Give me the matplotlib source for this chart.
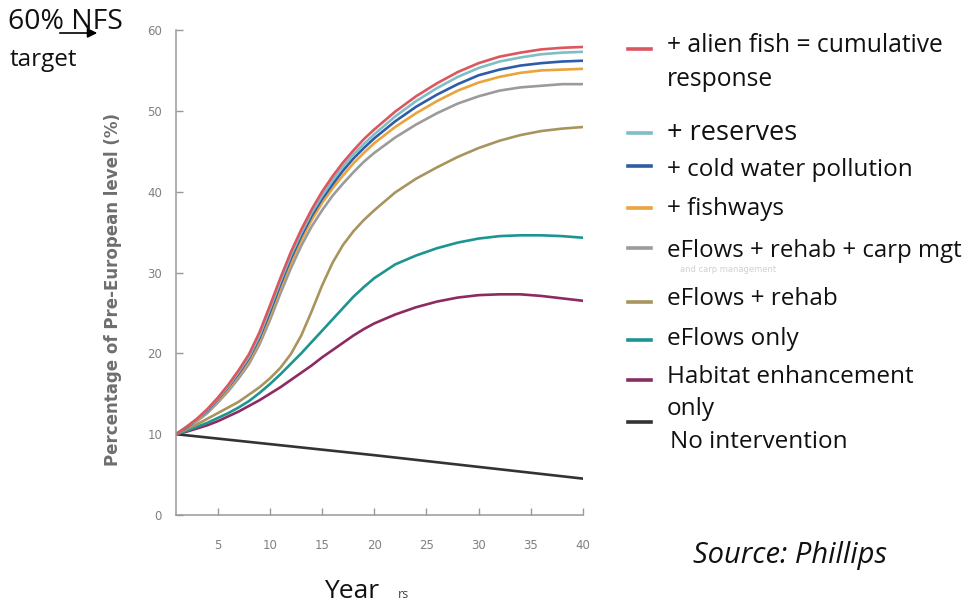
import matplotlib
matplotlib.use('Agg')
import matplotlib.pyplot as plt

years = [1, 2, 3, 4, 5, 6, 7, 8, 9, 10, 11, 12, 13, 14, 15, 16, 17, 18, 19, 20,
         22, 24, 26, 28, 30, 32, 34, 36, 38, 40]

alien_fish = [10, 10.9, 11.9, 13.1, 14.5, 16.1, 17.9, 19.9, 22.6, 25.9, 29.3, 32.5, 35.3, 37.8, 40.0,
              41.9, 43.6, 45.1, 46.5, 47.7, 49.9, 51.8, 53.4, 54.8, 55.9, 56.7, 57.2, 57.6, 57.8, 57.9]
reserves = [10, 10.9, 11.8, 13.0, 14.4, 15.9, 17.7, 19.6, 22.2, 25.5, 28.9, 32.1, 34.9, 37.4, 39.5,
            41.4, 43.1, 44.6, 45.9, 47.1, 49.3, 51.2, 52.8, 54.2, 55.3, 56.1, 56.6, 57.0, 57.2, 57.3]
cold_water = [10, 10.8, 11.8, 12.9, 14.3, 15.8, 17.5, 19.4, 21.9, 25.1, 28.5, 31.7, 34.5, 37.0, 39.1,
              40.9, 42.6, 44.1, 45.4, 46.6, 48.7, 50.5, 52.0, 53.3, 54.4, 55.1, 55.6, 55.9, 56.1, 56.2]
fishways = [10, 10.8, 11.7, 12.8, 14.1, 15.6, 17.3, 19.1, 21.6, 24.7, 28.1, 31.2, 34.0, 36.5, 38.6,
            40.4, 42.0, 43.5, 44.8, 46.0, 48.0, 49.7, 51.2, 52.5, 53.5, 54.2, 54.7, 55.0, 55.1, 55.2]
carp_mgt = [10, 10.7, 11.6, 12.6, 13.9, 15.3, 16.9, 18.7, 21.1, 24.1, 27.4, 30.5, 33.3, 35.7, 37.7,
            39.5, 41.0, 42.4, 43.7, 44.8, 46.7, 48.3, 49.7, 50.9, 51.8, 52.5, 52.9, 53.1, 53.3, 53.3]
eflows_rehab = [10, 10.6, 11.2, 11.9, 12.6, 13.3, 14.0, 14.9, 15.8, 16.9, 18.2, 19.9, 22.2, 25.2, 28.4,
                31.2, 33.4, 35.1, 36.5, 37.7, 39.9, 41.6, 43.0, 44.3, 45.4, 46.3, 47.0, 47.5, 47.8, 48.0]
eflows_only = [10, 10.4, 10.9, 11.4, 12.0, 12.6, 13.3, 14.1, 15.1, 16.2, 17.4, 18.7, 20.0, 21.4, 22.8,
               24.2, 25.6, 27.0, 28.2, 29.3, 31.0, 32.1, 33.0, 33.7, 34.2, 34.5, 34.6, 34.6, 34.5, 34.3]
habitat = [10, 10.3, 10.7, 11.1, 11.6, 12.2, 12.8, 13.5, 14.2, 15.0, 15.8, 16.7, 17.6, 18.5, 19.5,
           20.4, 21.3, 22.2, 23.0, 23.7, 24.8, 25.7, 26.4, 26.9, 27.2, 27.3, 27.3, 27.1, 26.8, 26.5]

# the no-intervention line is straight
none_years = [1, 20, 40]
no_intervention = [10, 7.4, 4.5]

curves = [(none_years, no_intervention, '#333333'),
          (years, habitat, '#8c2b62'),
          (years, eflows_only, '#1c9490'),
          (years, eflows_rehab, '#a8955e'),
          (years, carp_mgt, '#9b9b9b'),
          (years, fishways, '#e9a43c'),
          (years, cold_water, '#2f5ca8'),
          (years, reserves, '#80bec6'),
          (years, alien_fish, '#dc5660')]

xticks = [5, 10, 15, 20, 25, 30, 35, 40]
yticks = [0, 10, 20, 30, 40, 50, 60]

W, H = 970, 607


def P(x, y):
    # pixel position -> figure fraction
    return x / W, 1 - y / H


fig = plt.figure(figsize=(9.7, 6.07), dpi=100)
ax = fig.add_axes([176 / W, 1 - 515 / H, (583 - 176) / W, (515 - 30) / H])

for xs, vals, c in curves:
    ax.plot(xs, vals, color=c, lw=1.9)

ax.set_xlim(1, 40)
ax.set_ylim(0, 60)
ax.set_xticks(xticks)
ax.set_yticks(yticks)
for s in ['top', 'right']:
    ax.spines[s].set_visible(False)
for s in ['left', 'bottom']:
    ax.spines[s].set_color('#999999')
    ax.spines[s].set_linewidth(1.1)
ax.tick_params(axis='x', direction='in', length=5, width=1, color='#999999',
               labelsize=8.5, labelcolor='#808080', pad=17)
ax.tick_params(axis='y', direction='in', length=5, width=1, color='#999999',
               labelsize=8.5, labelcolor='#808080', pad=10)
for lab in ax.get_xticklabels() + ax.get_yticklabels():
    lab.set_family(['Liberation Sans Narrow', 'DejaVu Sans'])

fig.text(*P(113, 289), 'Percentage of Pre-European level (%)', rotation=90,
         ha='center', va='center', fontsize=12, color='#6e6e6e', fontweight='bold')

big = 'Open Sans'
fig.text(*P(352, 592), 'Year', ha='center', va='center', fontsize=19, family=big, color='#111111')
fig.text(*P(404, 594), 'rs', ha='center', va='center', fontsize=9, family=big, color='#444444')

fig.text(*P(8, 22), '60% NFS', ha='left', va='center', fontsize=20.4, family=big, color='#111111')
fig.text(*P(10, 60), 'target', ha='left', va='center', fontsize=17.5, family=big, color='#111111')
fig.patches.append(matplotlib.patches.FancyArrowPatch(
    P(57, 33), P(100, 33), transform=fig.transFigure, arrowstyle='-|>',
    mutation_scale=14, lw=1.2, color='black'))

# legend drawn as text with short coloured strokes
legend_rows = [
    ('+ alien fish = cumulative', 46, 49, '#dc5660', 17.7),
    ('response', 80, None, None, 17.7),
    ('+ reserves', 133, 133, '#80bec6', 19.5),
    ('+ cold water pollution', 170, 166, '#2f5ca8', 17.5),
    ('+ fishways', 209, 208, '#e9a43c', 17.5),
    ('eFlows + rehab + carp mgt', 251, 248, '#9b9b9b', 17.3),
    ('eFlows + rehab', 299, 302, '#a8955e', 17.5),
    ('eFlows only', 339, 340, '#1c9490', 17.5),
    ('Habitat enhancement', 377, 380, '#8c2b62', 17.5),
    ('only', 409, 422, '#333333', 17.5),
]
for label, ty, ly, c, fs in legend_rows:
    fig.text(*P(667, ty), label, ha='left', va='center', fontsize=fs, family=big, color='#111111')
    if ly is not None:
        fig.add_artist(plt.Line2D([628 / W, 651 / W], [1 - ly / H, 1 - ly / H], color=c, lw=2.6))
fig.text(*P(670, 442), 'No intervention', ha='left', va='center', fontsize=17.5, family=big, color='#111111')
fig.text(*P(680, 270), 'and carp management', ha='left', va='center', fontsize=6, color='#d0d0d0')

fig.text(*P(790, 555), 'Source: Phillips', ha='center', va='center', fontsize=21,
         family=big, style='italic', color='#111111')

fig.savefig('out.png', dpi=100)
